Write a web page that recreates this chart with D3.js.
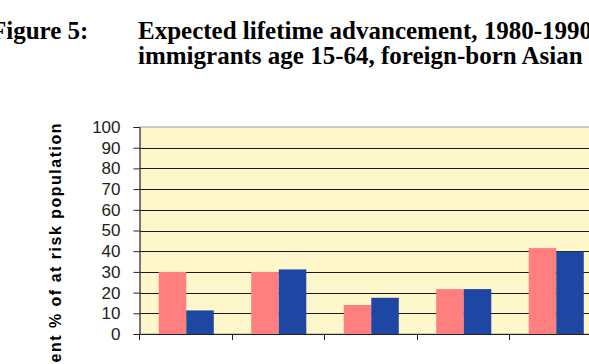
<!DOCTYPE html>
<html>
<head>
<meta charset="utf-8">
<script src="https://cdn.jsdelivr.net/npm/d3@7"></script>
<style>
  body { margin: 0; background: #fff; }
  svg { display: block; }
</style>
</head>
<body>
<div id="chart-area"></div>
<script>
// DATA
var categories = ["Group 1", "Group 2", "Group 3", "Group 4", "Group 5"];
var series = ["1980", "1990"];
var values1980 = [30, 30, 14, 21.7, 41.5];
var values1990 = [11.4, 31.2, 17.5, 21.7, 39.8];
var yTicks = [0, 10, 20, 30, 40, 50, 60, 70, 80, 90, 100];

var colors = { "1980": "#FF7F80", "1990": "#1E47A3" };

var width = 589;
var height = 364;

var svg = d3.select("#chart-area")
    .append("svg")
    .attr("width", width)
    .attr("height", height);

// Title
var title = svg.append("g")
    .attr("font-family", "'Liberation Serif', 'Times New Roman', serif")
    .attr("font-weight", "bold")
    .attr("font-size", "25px")
    .attr("fill", "#000");

title.append("text").attr("x", -9).attr("y", 39).text("Figure 5:");
title.append("text").attr("x", 138).attr("y", 39).text("Expected lifetime advancement, 1980-1990");
title.append("text").attr("x", 138).attr("y", 64).text("immigrants age 15-64, foreign-born Asian");

// SCALES
var plotLeft = 140, plotRight = 602.5, plotTop = 127, plotBottom = 334;

var x0 = d3.scaleBand()
    .domain(categories)
    .range([plotLeft, plotRight])
    .paddingInner(0)
    .paddingOuter(0);

var x1 = d3.scaleBand()
    .domain(series)
    .range([0, x0.bandwidth()])
    .paddingInner(0)
    .paddingOuter(0.68);

var y = d3.scaleLinear()
    .domain([0, 100])
    .range([plotBottom, plotTop]);

var data = categories.map(function (c, i) {
    return { category: c, values: [
        { series: "1980", value: values1980[i] },
        { series: "1990", value: values1990[i] }
    ] };
});

// Plot background
svg.append("rect")
    .attr("x", plotLeft)
    .attr("y", plotTop)
    .attr("width", plotRight - plotLeft)
    .attr("height", plotBottom - plotTop)
    .attr("fill", "#FFF7CC")
    .attr("stroke", "#999")
    .attr("stroke-width", 1);

// Gridlines
svg.append("g")
    .selectAll("line")
    .data(yTicks.filter(function (d) { return d > 0 && d < 100; }))
    .enter()
    .append("line")
    .attr("x1", plotLeft)
    .attr("x2", plotRight)
    .attr("y1", function (d) { return Math.round(y(d)) + 0.5; })
    .attr("y2", function (d) { return Math.round(y(d)) + 0.5; })
    .attr("stroke", "#1a1a1a")
    .attr("stroke-width", 1.2);

// Bars
svg.append("g")
    .selectAll("g")
    .data(data)
    .enter()
    .append("g")
    .attr("transform", function (d) { return "translate(" + x0(d.category) + ",0)"; })
    .selectAll("rect")
    .data(function (d) { return d.values; })
    .enter()
    .append("rect")
    .attr("x", function (d) { return x1(d.series); })
    .attr("y", function (d) { return y(d.value); })
    .attr("width", x1.bandwidth())
    .attr("height", function (d) { return plotBottom - y(d.value); })
    .attr("fill", function (d) { return colors[d.series]; });

// AXES
var leftAxis = d3.axisLeft(y)
    .tickValues(yTicks)
    .tickSize(6)
    .tickPadding(13);

var gy = svg.append("g")
    .attr("transform", "translate(" + (plotLeft - 0.5) + ",0)")
    .call(leftAxis);
gy.selectAll("text")
    .attr("font-family", "Arial, 'Liberation Sans', sans-serif")
    .attr("font-size", "17px")
    .attr("fill", "#222");
gy.selectAll("line, path").attr("stroke", "#222");

// x axis line with ticks at category boundaries
var boundaries = categories.map(function (c) { return x0(c); });
var gx = svg.append("g");
gx.append("line")
    .attr("x1", plotLeft - 6)
    .attr("x2", plotRight)
    .attr("y1", plotBottom + 0.5)
    .attr("y2", plotBottom + 0.5)
    .attr("stroke", "#222");
gx.selectAll(".xtick")
    .data(boundaries)
    .enter()
    .append("line")
    .attr("class", "xtick")
    .attr("x1", function (d) { return Math.round(d) - 0.5; })
    .attr("x2", function (d) { return Math.round(d) - 0.5; })
    .attr("y1", plotBottom)
    .attr("y2", plotBottom + 6)
    .attr("stroke", "#222");

// Y axis label
svg.append("text")
    .attr("transform", "translate(61,122) rotate(-90)")
    .attr("text-anchor", "end")
    .attr("font-family", "Arial, 'Liberation Sans', sans-serif")
    .attr("font-weight", "bold")
    .attr("font-size", "16px")
    .attr("letter-spacing", "1.5px")
    .attr("fill", "#000")
    .text("Advancement % of at risk population");
</script>
</body>
</html>
